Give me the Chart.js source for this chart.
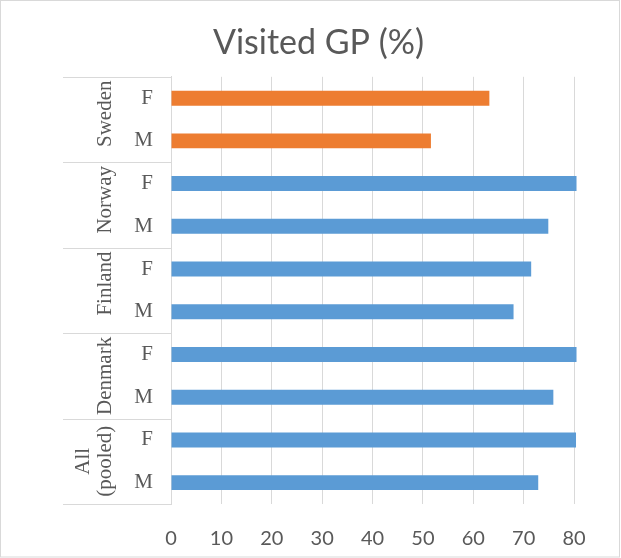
<!DOCTYPE html>
<html>
<head>
  <meta charset="UTF-8">
  <title>Visited GP</title>
  <script src="https://cdn.jsdelivr.net/npm/chart.js"></script>
  <style>
    body { margin: 0; background: #fff; }
    .wrap { width: 621px; height: 558px; position: relative; }
  </style>
</head>
<body>
  <div class="wrap"><canvas id="gp"></canvas></div>

  <script>
    // data, top to bottom as in the picture
    var countries = ["Sweden", "Norway", "Finland", "Denmark", "All (pooled)"];
    var sexes = ["F", "M"];
    var visited = [63.2, 51.6, 80.5, 74.9, 71.5, 68.0, 80.5, 75.9, 80.4, 72.9];
    var xTicks = [0, 10, 20, 30, 40, 50, 60, 70, 80];

    var orange = "#ED7D31";
    var blue = "#5B9BD5";
    var textColor = "#595959";
    var lineColor = "#d9d9d9";

    var labels = [];
    var barColors = [];
    for (var i = 0; i < countries.length; i++) {
      for (var j = 0; j < sexes.length; j++) {
        labels.push(sexes[j]);
        barColors.push(i == 0 ? orange : blue);
      }
    }

    // country labels + separators on the left, and the outer frame
    var groupPlugin = {
      id: "groups",
      afterDraw: function (chart) {
        var ctx = chart.ctx;
        var y = chart.scales.y;
        var area = chart.chartArea;
        var n = sexes.length;

        ctx.save();
        ctx.strokeStyle = lineColor;
        ctx.lineWidth = 1;

        for (var g = 0; g <= countries.length; g++) {
          var yy;
          if (g == 0) yy = area.top;
          else if (g == countries.length) yy = area.bottom;
          else yy = (y.getPixelForValue(g * n - 1) + y.getPixelForValue(g * n)) / 2;
          yy = Math.round(yy) + 0.5;
          ctx.beginPath();
          ctx.moveTo(y.left, yy);
          ctx.lineTo(area.left, yy);
          ctx.stroke();
        }

        ctx.fillStyle = textColor;
        ctx.font = "21px 'Liberation Serif'";
        ctx.textBaseline = "alphabetic";
        for (var g = 0; g < countries.length; g++) {
          var mid = (y.getPixelForValue(g * n) + y.getPixelForValue(g * n + n - 1)) / 2;
          var lines = countries[g].split(" ");
          for (var k = 0; k < lines.length; k++) {
            var bx = 111 - (lines.length - 1 - k) * 22;
            ctx.save();
            ctx.translate(bx, mid);
            ctx.rotate(-Math.PI / 2);
            if (lines.length == 1) {
              ctx.textAlign = "right";
              ctx.fillText(lines[k], 39, 0);
            } else {
              ctx.textAlign = "center";
              ctx.fillText(lines[k], 0, 0);
            }
            ctx.restore();
          }
        }

        // chart frame
        ctx.strokeStyle = lineColor;
        ctx.strokeRect(0.5, 0.5, chart.width - 2, chart.height - 1.5);
        ctx.restore();
      }
    };

    new Chart("gp", {
      type: "bar",
      data: {
        labels: labels,
        datasets: [{
          data: visited,
          backgroundColor: barColors,
          barPercentage: 0.35,
          categoryPercentage: 1,
          clip: false
        }]
      },
      options: {
        indexAxis: "y",
        responsive: true,
        maintainAspectRatio: false,
        animation: false,
        layout: { padding: { left: 63, right: 47, top: 0, bottom: 10 } },
        plugins: {
          legend: { display: false },
          tooltip: { enabled: false },
          title: {
            display: true,
            text: "Visited GP (%)",
            color: textColor,
            font: { family: "Lato", size: 34, weight: "normal" },
            padding: { top: 23, bottom: 13 }
          }
        },
        scales: {
          x: {
            min: xTicks[0],
            max: xTicks[xTicks.length - 1],
            afterBuildTicks: function (scale) {
              scale.ticks = xTicks.map(function (v) { return { value: v }; });
            },
            afterFit: function (scale) { scale.height = 44; },
            grid: { color: lineColor, drawTicks: false },
            border: { display: false },
            ticks: {
              color: textColor,
              font: { family: "Lato", size: 20 },
              padding: 23
            }
          },
          y: {
            afterFit: function (scale) {
              scale.width = 108;
              scale.paddingTop = 0;
              scale.paddingBottom = 0;
            },
            grid: { display: false, drawTicks: false },
            border: { display: true, color: lineColor },
            ticks: {
              color: textColor,
              font: { family: "Liberation Serif", size: 21 },
              padding: 18
            }
          }
        }
      },
      plugins: [groupPlugin]
    });
  </script>
</body>
</html>
